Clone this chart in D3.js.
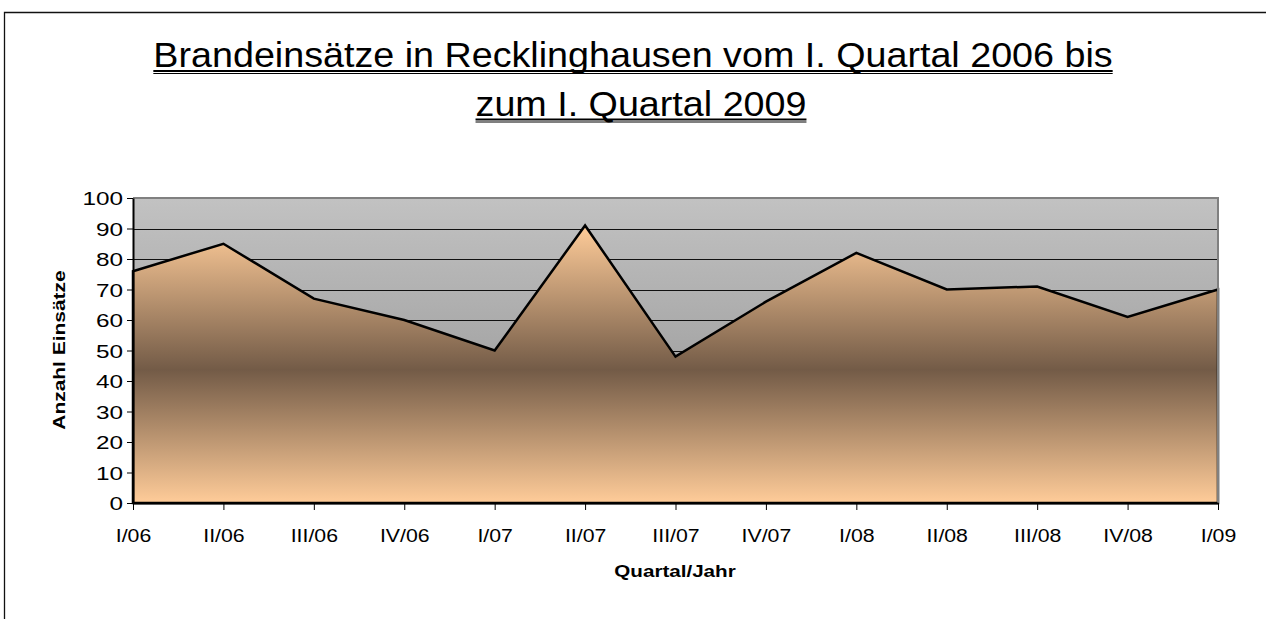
<!DOCTYPE html>
<html>
<head>
<meta charset="utf-8">
<script src="https://cdn.jsdelivr.net/npm/d3@7"></script>
<style>
  html, body { margin: 0; padding: 0; background: #fff; overflow: hidden; }
  svg { display: block; font-family: "Liberation Sans", Arial, sans-serif; }
</style>
</head>
<body>
<svg id="chart" width="1266" height="619"></svg>
<script>
const categories = ["I/06","II/06","III/06","IV/06","I/07","II/07","III/07","IV/07","I/08","II/08","III/08","IV/08","I/09"];
const values = [76, 85, 67, 60, 50, 91, 48, 66, 82, 70, 71, 61, 70];
const yTicks = [0, 10, 20, 30, 40, 50, 60, 70, 80, 90, 100];
const titleLines = ["Brandeinsätze in Recklinghausen vom I. Quartal 2006 bis", "zum I. Quartal 2009"];
const xTitle = "Quartal/Jahr";
const yTitle = "Anzahl Einsätze";

const svg = d3.select("#chart");
const L = 133, R = 1218, T = 198, B = 503;

const defs = svg.append("defs");
const bg = defs.append("linearGradient").attr("id", "bgGrad").attr("x1", 0).attr("y1", 0).attr("x2", 0).attr("y2", 1);
bg.append("stop").attr("offset", "0%").attr("stop-color", "#c2c2c2");
bg.append("stop").attr("offset", "100%").attr("stop-color", "#8c8c8c");

const ag = defs.append("linearGradient").attr("id", "areaGrad").attr("x1", 0).attr("y1", 0).attr("x2", 0).attr("y2", 1);
ag.append("stop").attr("offset", "0%").attr("stop-color", "#ffcc99");
ag.append("stop").attr("offset", "52%").attr("stop-color", "#735b47");
ag.append("stop").attr("offset", "100%").attr("stop-color", "#ffcc99");

// outer frame (extends past the picture on right and bottom)
svg.append("path").attr("d", "M4.5,619V12.5H1266")
  .attr("fill", "none").attr("stroke", "#111").attr("stroke-width", 1.3);

const x = d3.scalePoint().domain(categories).range([L, R]);
const y = d3.scaleLinear().domain([0, 100]).range([B, T]);

// plot background
svg.append("rect").attr("x", L).attr("y", T).attr("width", R - L).attr("height", B - T).attr("fill", "url(#bgGrad)");

// gridlines
svg.append("g").selectAll("line").data(yTicks.filter(v => v > 0 && v < 100)).join("line")
  .attr("x1", L).attr("x2", R).attr("y1", d => Math.round(y(d)) + 0.5).attr("y2", d => Math.round(y(d)) + 0.5)
  .attr("stroke", "#111").attr("stroke-width", 1);

// area
const area = d3.area().x((d, i) => x(categories[i])).y0(y(0)).y1(d => y(d));
svg.append("path").datum(values).attr("d", area)
  .attr("fill", "url(#areaGrad)").attr("stroke", "#000").attr("stroke-width", 2.5).attr("stroke-linejoin", "miter");

// plot border top/right
svg.append("path").attr("d", `M${L},${T}H${R}V${B}`).attr("fill", "none").attr("stroke", "#808080").attr("stroke-width", 2);

// axes
const yAxis = svg.append("g").attr("transform", `translate(${L},0)`)
  .call(d3.axisLeft(y).tickValues(yTicks).tickSize(6).tickSizeOuter(0));
yAxis.select(".domain").attr("stroke", "#000").attr("stroke-width", 2);
yAxis.selectAll(".tick line").attr("stroke", "#000").attr("stroke-width", 1);
yAxis.selectAll(".tick text").attr("x", null).attr("dy", "0.36em")
  .attr("transform", "translate(-10,0) scale(1.28,1)")
  .attr("font-size", 19).attr("fill", "#000").attr("font-family", "Liberation Sans, Arial, sans-serif");

const xAxis = svg.append("g").attr("transform", `translate(0,${B})`)
  .call(d3.axisBottom(x).tickSize(7).tickSizeOuter(0));
xAxis.select(".domain").attr("stroke", "#000").attr("stroke-width", 2);
xAxis.selectAll(".tick line").attr("stroke", "#000").attr("stroke-width", 1);
xAxis.selectAll(".tick text").attr("y", null).attr("dy", null)
  .attr("transform", "translate(0,38.5) scale(1.15,1)")
  .attr("font-size", 18.5).attr("fill", "#000").attr("font-family", "Liberation Sans, Arial, sans-serif");

// axis titles
svg.append("text").attr("transform", `translate(675,577) scale(1.25,1)`)
  .attr("text-anchor", "middle").attr("font-weight", "bold").attr("font-size", 16.5).text(xTitle);
svg.append("text").attr("transform", `translate(65,350) rotate(-90) scale(1.27,1)`)
  .attr("text-anchor", "middle").attr("font-weight", "bold").attr("font-size", 16.5).text(yTitle);

// title
const titleCenters = [633, 641];
const titleBase = [67, 115.5];
const tScale = 1.077;
titleLines.forEach((line, i) => {
  const t = svg.append("text").attr("transform", `translate(${titleCenters[i]},${titleBase[i]}) scale(${tScale},1)`)
    .attr("text-anchor", "middle").attr("font-size", 35).attr("fill", "#000").text(line);
  const w = t.node().getComputedTextLength() * tScale;
  const x0 = titleCenters[i] - w / 2, x1 = titleCenters[i] + w / 2;
  svg.append("line").attr("x1", x0).attr("x2", x1).attr("y1", titleBase[i] + 4).attr("y2", titleBase[i] + 4)
    .attr("stroke", "#000").attr("stroke-width", 2);
  svg.append("line").attr("x1", x0).attr("x2", x1).attr("y1", titleBase[i] + 6.5).attr("y2", titleBase[i] + 6.5)
    .attr("stroke", "#000").attr("stroke-width", 1);
});
</script>
</body>
</html>
